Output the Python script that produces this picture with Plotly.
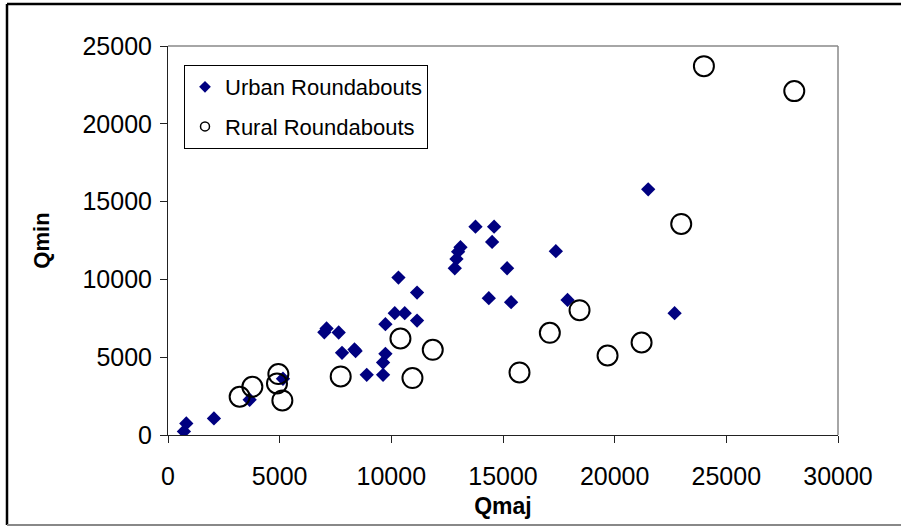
import plotly.graph_objects as go

# Urban roundabouts (Qmaj, Qmin)
urban_qmaj = [712, 820, 2057, 3656, 5148, 7100, 7000, 7643, 7792, 8350, 8400, 8898,
              9630, 9630, 9735, 9735, 10153, 10600, 10318, 11152, 11152, 12841, 12916,
              12990, 13096, 13768, 14602, 14512, 14364, 15184, 15363, 17366, 17890,
              21501, 22683]
urban_qmin = [231, 745, 1066, 2266, 3614, 6850, 6600, 6586, 5283, 5500, 5400, 3870,
              3870, 4660, 5218, 7125, 7830, 7830, 10116, 9153, 7356, 10718, 11316,
              11785, 12067, 13390, 13390, 12408, 8794, 10718, 8537, 11811, 8684,
              15790, 7830]

# Rural roundabouts (Qmaj, Qmin)
rural_qmaj = [3208, 3777, 4942, 4880, 5121, 7733, 10408, 10946, 11855, 15739, 17097,
              18427, 19682, 21205, 22980, 23996, 28042]
rural_qmin = [2458, 3100, 3915, 3312, 2221, 3762, 6201, 3659, 5476, 4018, 6567,
              8023, 5110, 5944, 13564, 23705, 22100]

x_ticks = [0, 5000, 10000, 15000, 20000, 25000, 30000]
x_tick_labels = ["0", "5000", "10000", "15000", "20000", "25000", "30000"]
y_ticks = [0, 5000, 10000, 15000, 20000, 25000]
y_tick_labels = ["0", "5000", "10000", "15000", "20000", "25000"]

FONT = "Arial, 'Liberation Sans', sans-serif"
NAVY = "#000080"

fig = go.Figure()
fig.add_trace(go.Scatter(x=urban_qmaj, y=urban_qmin, mode="markers", name="Urban Roundabouts",
                         marker=dict(symbol="diamond", size=11, color=NAVY, line=dict(width=0)),
                         showlegend=False))
fig.add_trace(go.Scatter(x=rural_qmaj, y=rural_qmin, mode="markers", name="Rural Roundabouts",
                         marker=dict(symbol="circle-open", size=20, color="black", line=dict(width=2)),
                         showlegend=False))
# legend entries with small symbols
fig.add_trace(go.Scatter(x=[None], y=[None], mode="markers", name="Urban Roundabouts",
                         legendgroup="u",
                         marker=dict(symbol="diamond", size=9, color=NAVY)))
fig.add_trace(go.Scatter(x=[None], y=[None], mode="markers", name="Rural Roundabouts",
                         legendgroup="r",
                         marker=dict(symbol="circle-open", size=9, color="black", line=dict(width=1.5))))

W, H = 902, 527
L, R, T, B = 168, 64, 46, 92
pw, ph = W - L - R, H - T - B

def px_x(p):
    return (p - L) / pw

def px_y(p):
    return (H - B - p) / ph

axis_common = dict(showgrid=False, zeroline=False, showline=True, linecolor="#222", linewidth=1,
                   ticks="outside", ticklen=7, tickcolor="#222",
                   tickfont=dict(family=FONT, size=25, color="black"))

fig.update_layout(
    width=W, height=H,
    margin=dict(l=L, r=R, t=T, b=B, pad=0),
    paper_bgcolor="white", plot_bgcolor="white",
    font=dict(family=FONT, color="black"),
    xaxis=dict(range=[0, 30000], tickvals=x_ticks, ticktext=x_tick_labels, ticklabelstandoff=12,
               title=dict(text="<b>Qmaj</b>", font=dict(family=FONT, size=23), standoff=8),
               **axis_common),
    yaxis=dict(range=[0, 25000], tickvals=y_ticks, ticktext=y_tick_labels, ticklabelstandoff=3,
               title=dict(text="<b>Qmin</b>", font=dict(family=FONT, size=22), standoff=26),
               **axis_common),
    legend=dict(x=px_x(184), y=px_y(65), xanchor="left", yanchor="top",
                bgcolor="white", bordercolor="black", borderwidth=1,
                font=dict(family=FONT, size=22, color="black"),
                tracegroupgap=8, itemwidth=30),
    shapes=[
        # plot area frame (top/right gray)
        dict(type="line", xref="paper", yref="paper", x0=0, x1=1, y0=1, y1=1,
             line=dict(color="#888", width=1.5)),
        dict(type="line", xref="paper", yref="paper", x0=1, x1=1, y0=0, y1=1,
             line=dict(color="#888", width=1.5)),
        # outer chart border
        dict(type="line", xref="paper", yref="paper", x0=px_x(7), x1=px_x(901), y0=px_y(4), y1=px_y(4),
             line=dict(color="black", width=2.5)),
        dict(type="line", xref="paper", yref="paper", x0=px_x(7), x1=px_x(7), y0=px_y(4), y1=px_y(525),
             line=dict(color="black", width=2.5)),
        dict(type="line", xref="paper", yref="paper", x0=px_x(7), x1=px_x(901), y0=px_y(525), y1=px_y(525),
             line=dict(color="#888", width=2)),
    ],
)

fig.write_html("out.html")
